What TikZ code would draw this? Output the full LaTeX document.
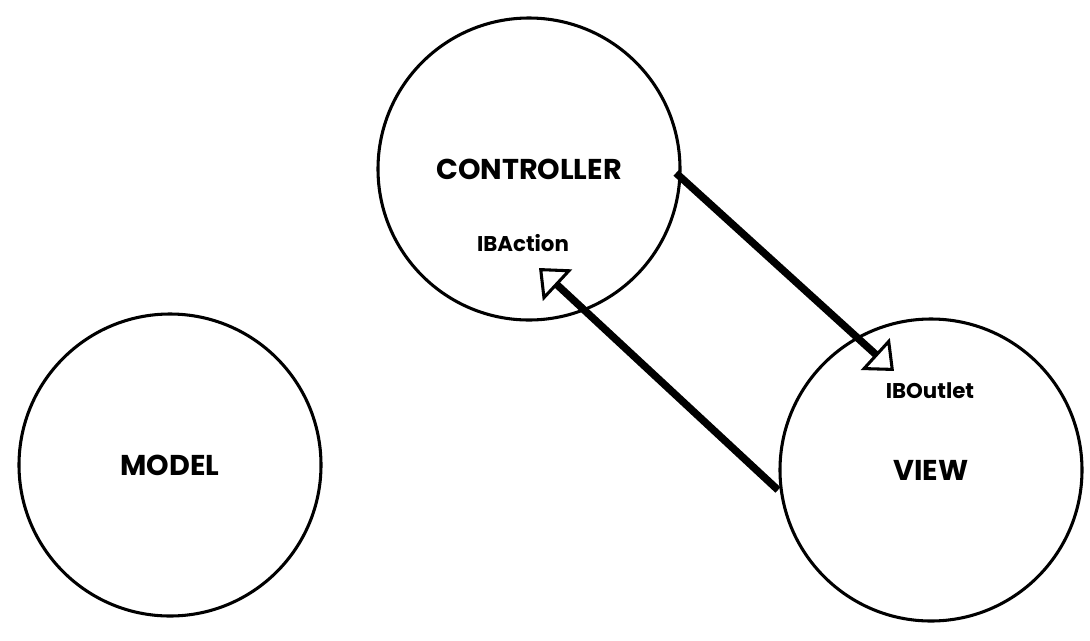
\documentclass[tikz,border=0pt]{standalone}
\usepackage{fontspec}
\setmainfont{Poppins}
\usetikzlibrary{arrows.meta}
\tikzset{
  blob/.style={draw=black, line width=2.3pt, circle, minimum size=226.5pt, inner sep=0pt, font=\bfseries\fontsize{21.5}{24}\selectfont},
  tag/.style={inner sep=0pt, font=\bfseries\fontsize{16}{18}\selectfont},
  link/.style={line width=5.6pt, -{Triangle[open, length=19pt, width=32pt, line width=2.3pt]}}
}
\begin{document}
\begin{tikzpicture}[x=0.75pt, y=-0.75pt]
\useasboundingbox (0,0) rectangle (1090,640);
\node[blob] (ctrl) at (529,169) {CONTROLLER};
\node[blob] (model) at (170,465) {MODEL};
\node[blob] (view) at (931,470) {VIEW};
\node[tag] (act) at (523,243) {IBAction};
\node[tag] (out) at (930,391) {IBOutlet};
\coordinate (s1) at (676,173);
\coordinate (e1) at (894,371);
\coordinate (s2) at (778,490);
\coordinate (e2) at (539,268);
\draw[link] (s1) -- (e1);
\draw[link] (s2) -- (e2);
\end{tikzpicture}
\end{document}
